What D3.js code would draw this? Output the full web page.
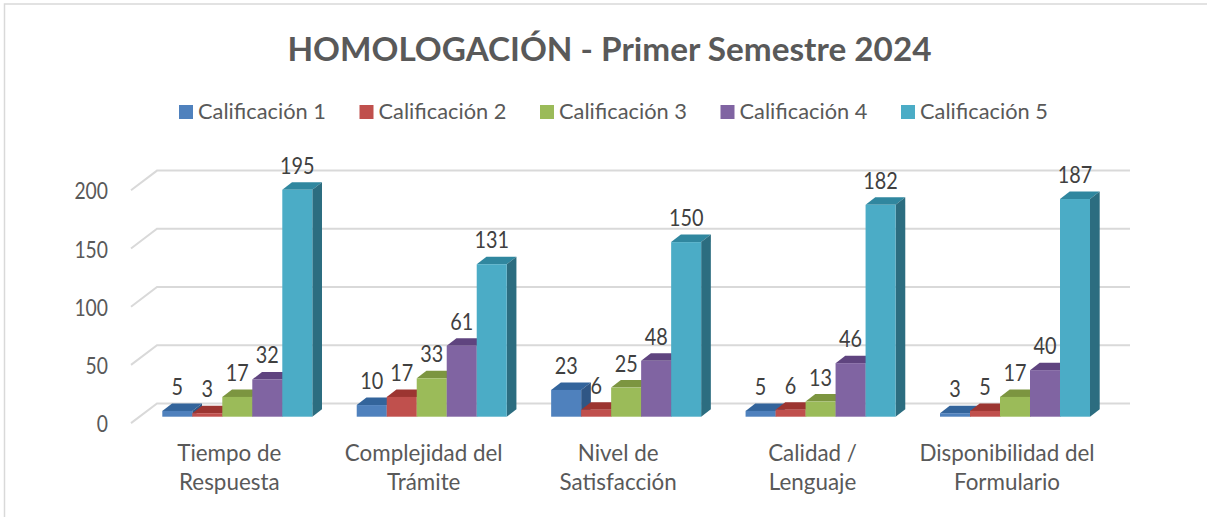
<!DOCTYPE html>
<html><head><meta charset="utf-8">
<script src="https://cdn.jsdelivr.net/npm/d3@7"></script>
<style>html,body{margin:0;padding:0;background:#fff}svg{display:block}text{font-family:Lato,"Open Sans",sans-serif}</style>
</head><body><div id="c"></div>
<script>
const title = "HOMOLOGACIÓN - Primer Semestre 2024";
const categories = [["Tiempo de","Respuesta"],["Complejidad del","Trámite"],["Nivel de","Satisfacción"],["Calidad /","Lenguaje"],["Disponibilidad del","Formulario"]];
const seriesNames = ["Calificación 1","Calificación 2","Calificación 3","Calificación 4","Calificación 5"];
const calif1 = [5,10,23,5,3];
const calif2 = [3,17,6,6,5];
const calif3 = [17,33,25,13,17];
const calif4 = [32,61,48,46,40];
const calif5 = [195,131,150,182,187];
const seriesValues = [calif1,calif2,calif3,calif4,calif5];
const ticks = [0,50,100,150,200];
const front = ["#4F81BD","#C0504D","#9BBB59","#8064A2","#4BACC6"];
const topC = ["#33649b","#9c3531","#7c9540","#5f447f","#30879f"];
const sideC = ["#2f5685","#84302c","#66803a","#503a6e","#2c6d80"];

const W=1207,H=517;
const svg=d3.select("#c").append("svg").attr("width",W).attr("height",H);
svg.append("path").attr("fill","none").attr("stroke","#d9d9d9").attr("stroke-width",1.5)
  .attr("d",d3.line()([[4.5,H],[4.5,4],[W,4]]));

const y=d3.scaleLinear().domain([0,200]).range([416.7,183.9]);
const barW=30;
const gx=d3.scaleLinear().domain([0,4]).range([162.3,940]);
const bx=d3.scaleLinear().domain([0,5]).range([0,150]);
const dX=9.7,dY=7.5;
const backDy=-13.3, frontDy=6.4;
// squeeze numerals to the narrower digit width of the reference font
const fitDigits=(sel,v,w)=>sel.attr("textLength",String(v).length*w).attr("lengthAdjust","spacingAndGlyphs");

const grid=svg.append("g");
ticks.forEach(t=>{
  grid.append("path").attr("fill","none").attr("stroke","#d9d9d9").attr("stroke-width",2)
    .attr("d",d3.line()([[131,y(t)+frontDy],[157,y(t)+backDy],[1130,y(t)+backDy]]));
  const tl=svg.append("text").attr("x",108).attr("y",y(t)+frontDy).attr("text-anchor","end").attr("dominant-baseline","central")
    .attr("font-size",23).attr("fill","#595959").text(t);
  fitDigits(tl,t,11.2);
});
const bars=svg.append("g");
categories.forEach((c,g)=>{
  seriesValues.forEach((vals,s)=>{
    const v=vals[g],l=gx(g)+bx(s),r=l+barW,t=y(v),b=y(0);
    const gg=bars.append("g");
    gg.append("polygon").attr("fill",topC[s]).attr("points",[[l,t],[l+dX,t-dY],[r+dX,t-dY],[r,t]].join(" "));
    gg.append("polygon").attr("fill",sideC[s]).attr("points",[[r,t],[r+dX,t-dY],[r+dX,b-dY],[r,b]].join(" "));
    gg.append("rect").attr("x",l).attr("y",t).attr("width",barW).attr("height",b-t).attr("fill",front[s]);
  });
});
categories.forEach((c,g)=>{
  seriesValues.forEach((vals,s)=>{
    const v=vals[g],l=gx(g)+bx(s);
    const dl=svg.append("text").attr("x",l+barW/2).attr("y",y(v)-25).attr("text-anchor","middle").attr("dominant-baseline","central")
      .attr("font-size",23).attr("fill","#404040").text(v);
    fitDigits(dl,v,11.5);
  });
  const lab=svg.append("text").attr("text-anchor","middle").attr("font-size",22.4).attr("fill","#595959");
  c.forEach((line,i)=>lab.append("tspan").attr("x",gx(g)+67).attr("y",460.5+i*29.5).text(line));
});
svg.append("text").attr("x",609.5).attr("y",48).attr("text-anchor","middle").attr("dominant-baseline","central")
  .attr("font-size",33.3).attr("font-weight",700).attr("fill","#595959").text(title);
const lx=d3.scaleLinear().domain([0,4]).range([179,901]);
seriesNames.forEach((n,i)=>{
  svg.append("rect").attr("x",lx(i)).attr("y",105).attr("width",14).attr("height",14).attr("fill",front[i]);
  svg.append("text").attr("x",lx(i)+19).attr("y",110).attr("dominant-baseline","central").attr("font-size",21.8).attr("fill","#595959").text(n);
});
</script></body></html>
